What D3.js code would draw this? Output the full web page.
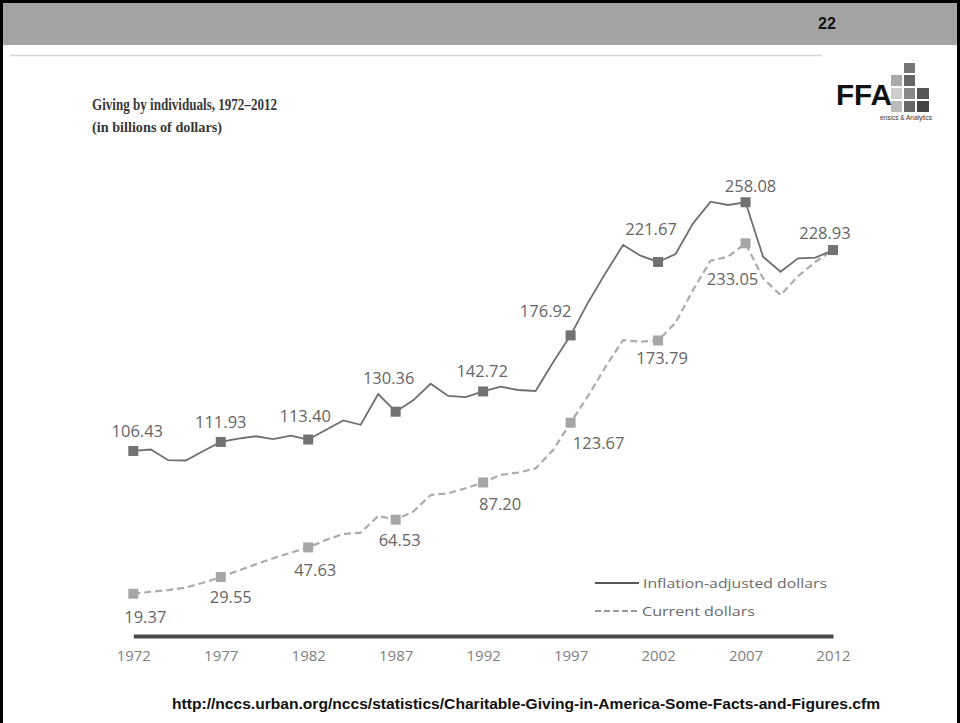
<!DOCTYPE html>
<html><head><meta charset="utf-8">
<script src="https://cdn.jsdelivr.net/npm/d3@7"></script>
<style>
html,body{margin:0;padding:0;background:#fff;}
svg{display:block;}
</style></head>
<body>
<svg id="c" width="960" height="723"></svg>
<script>
// ---- data ----
const years = d3.range(1972, 2013);
const inflationAdjusted = [106.43,107.3,100.8,100.6,106.4,111.93,114.0,115.4,113.6,115.8,113.40,119.2,125.0,122.4,141.1,130.36,137.3,147.4,140.0,139.2,142.72,145.6,143.6,143.0,160.5,176.92,197.0,215.0,232.0,225.5,221.67,226.5,245.2,258.4,256.4,258.08,224.9,215.7,223.9,224.3,228.93];
const currentDollars = [19.37,20.6,21.6,23.1,26.1,29.55,33.4,37.3,41.0,44.4,47.63,52.1,55.8,56.6,66.8,64.53,69.4,79.6,80.6,83.7,87.20,91.8,93.2,95.8,107.0,123.67,140.0,157.8,174.0,173.0,173.79,184.6,204.6,222.4,224.9,233.05,211.7,201.5,213.0,221.8,228.93];
const labelYears = [1972,1977,1982,1987,1992,1997,2002,2007,2012];
const inflationLabels = ["106.43","111.93","113.40","130.36","142.72","176.92","221.67","258.08","228.93"];
const currentLabels = ["19.37","29.55","47.63","64.53","87.20","123.67","173.79","233.05",""];
const tickYears = [1972,1977,1982,1987,1992,1997,2002,2007,2012];
const legendLabels = ["Inflation-adjusted dollars","Current dollars"];
const titleText = "Giving by individuals, 1972–2012";
const subtitleText = "(in billions of dollars)";
const pageNumber = "22";
const sourceUrl = "http://nccs.urban.org/nccs/statistics/Charitable-Giving-in-America-Some-Facts-and-Figures.cfm";

const svg = d3.select("#c");

// ---- slide frame ----
svg.append("rect").attr("x",0).attr("y",0).attr("width",960).attr("height",723).attr("fill","#fff");
svg.append("rect").attr("x",3).attr("y",3).attr("width",954).attr("height",42).attr("fill","#a3a3a3");
svg.append("rect").attr("x",1.5).attr("y",1.5).attr("width",957).attr("height",730)
  .attr("fill","none").attr("stroke","#000").attr("stroke-width",3);
svg.append("text").attr("x",827).attr("y",29).attr("text-anchor","middle")
  .attr("font-family","Liberation Sans, Arial, sans-serif").attr("font-weight","bold")
  .attr("font-size",16).attr("fill","#111").text(pageNumber);
svg.append("line").attr("x1",10).attr("x2",822).attr("y1",55.5).attr("y2",55.5)
  .attr("stroke","#d4d4d4").attr("stroke-width",1.5);

// ---- logo ----
const logo = svg.append("g");
const sq = [
  [904,63,11,10,"#777"],
  [891,75,11,11,"#aaa"],[904,75,11,11,"#666"],
  [891,88,11,11,"#ccc"],[904,88,11,11,"#888"],[917,88,12,11,"#555"],
  [891,101,11,11,"#bbb"],[904,101,11,11,"#666"],[917,101,12,11,"#444"]
];
logo.selectAll("rect").data(sq).join("rect")
  .attr("x",d=>d[0]).attr("y",d=>d[1]).attr("width",d=>d[2]).attr("height",d=>d[3]).attr("fill",d=>d[4]);
logo.append("text").attr("x",836).attr("y",105)
  .attr("font-family","Liberation Sans Narrow, Liberation Sans, Arial, sans-serif").attr("font-weight","bold")
  .attr("font-size",30).attr("fill","#111").attr("textLength",56).attr("lengthAdjust","spacingAndGlyphs").text("FFA");
logo.append("text").attr("x",932).attr("y",120).attr("text-anchor","end")
  .attr("font-family","Liberation Sans, Arial, sans-serif").attr("font-size",6.5).attr("fill","#333").text("ensics & Analytics");

// ---- title ----
svg.append("text").attr("x",92).attr("y",110)
  .attr("font-family","Liberation Serif, DejaVu Serif, serif").attr("font-weight","bold")
  .attr("font-size",16).attr("fill","#383838").attr("textLength",185).attr("lengthAdjust","spacingAndGlyphs").text(titleText);
svg.append("text").attr("x",92).attr("y",132)
  .attr("font-family","Liberation Serif, DejaVu Serif, serif").attr("font-weight","bold")
  .attr("font-size",14).attr("fill","#383838").attr("textLength",130).attr("lengthAdjust","spacingAndGlyphs").text(subtitleText);

// ---- scales ----
const x = d3.scaleLinear().domain([1972,2012]).range([133.3,833]);
const y = d3.scaleLinear().domain([0,260]).range([625.5,199.1]);

// ---- axis ----
const axis = d3.axisBottom(x).tickValues(tickYears).tickFormat(d3.format("d")).tickSize(0).tickSizeOuter(0).tickPadding(14);
const ag = svg.append("g").attr("transform","translate(0,636)").call(axis);
ag.select(".domain").attr("stroke","#4a4a4a").attr("stroke-width",4);
ag.selectAll("text").attr("font-family","Open Sans, sans-serif").attr("font-size",15).attr("fill","#808080");

// ---- lines ----
const line = d3.line().x((d,i)=>x(years[i])).y(d=>y(d));
svg.append("path").datum(currentDollars).attr("d",line).attr("fill","none")
  .attr("stroke","#ababab").attr("stroke-width",2.2).attr("stroke-dasharray","7,4");
svg.append("path").datum(inflationAdjusted).attr("d",line).attr("fill","none")
  .attr("stroke","#6f6f6f").attr("stroke-width",1.8);

const ms = 10;
const idx = labelYears.map(yr=>years.indexOf(yr));
svg.append("g").selectAll("rect").data(idx).join("rect")
  .attr("x",i=>x(years[i])-ms/2).attr("y",i=>y(currentDollars[i])-ms/2)
  .attr("width",ms).attr("height",ms).attr("fill","#a6a6a6");
svg.append("g").selectAll("rect").data(idx).join("rect")
  .attr("x",i=>x(years[i])-ms/2).attr("y",i=>y(inflationAdjusted[i])-ms/2)
  .attr("width",ms).attr("height",ms).attr("fill","#727272");

// ---- data labels ----
const lblFont = {family:"Open Sans, sans-serif", size:16.5, fill:"#666"};
// offsets relative to marker (dx, dy baseline)
const infOff = [[4,-14],[0,-14],[-3,-18],[-7,-28],[-1,-14],[-25,-18],[-7,-27],[5,-10],[-8,-11]];
const curOff = [[12,29],[10,26],[7,29],[4,26],[17,28],[28,26],[4,24],[-13,42],[0,0]];
const lg = svg.append("g").attr("font-family",lblFont.family).attr("font-size",lblFont.size)
  .attr("fill",lblFont.fill).attr("text-anchor","middle");
lg.selectAll("text.inf").data(idx).join("text").attr("class","inf")
  .attr("x",(i,k)=>x(years[i])+infOff[k][0]).attr("y",(i,k)=>y(inflationAdjusted[i])+infOff[k][1])
  .text((i,k)=>inflationLabels[k]);
lg.selectAll("text.cur").data(idx).join("text").attr("class","cur")
  .attr("x",(i,k)=>x(years[i])+curOff[k][0]).attr("y",(i,k)=>y(currentDollars[i])+curOff[k][1])
  .text((i,k)=>currentLabels[k]);

// ---- legend ----
const leg = svg.append("g");
leg.append("line").attr("x1",595).attr("x2",639).attr("y1",583).attr("y2",583).attr("stroke","#555").attr("stroke-width",1.8);
leg.append("line").attr("x1",595).attr("x2",640).attr("y1",611).attr("y2",611).attr("stroke","#999").attr("stroke-width",2).attr("stroke-dasharray","6,3");
leg.append("text").attr("x",643).attr("y",588).attr("font-family","Open Sans, sans-serif").attr("font-size",13.5)
  .attr("fill","#6a6a6a").attr("textLength",184).attr("lengthAdjust","spacingAndGlyphs").text(legendLabels[0]);
leg.append("text").attr("x",642).attr("y",616).attr("font-family","Open Sans, sans-serif").attr("font-size",13.5)
  .attr("fill","#6a6a6a").attr("textLength",113).attr("lengthAdjust","spacingAndGlyphs").text(legendLabels[1]);

// ---- source url ----
svg.append("text").attr("x",526).attr("y",709).attr("text-anchor","middle")
  .attr("font-family","Liberation Sans, Arial, sans-serif").attr("font-weight","bold")
  .attr("font-size",15).attr("fill","#111").attr("textLength",708).attr("lengthAdjust","spacingAndGlyphs").text(sourceUrl);
</script>
</body></html>
